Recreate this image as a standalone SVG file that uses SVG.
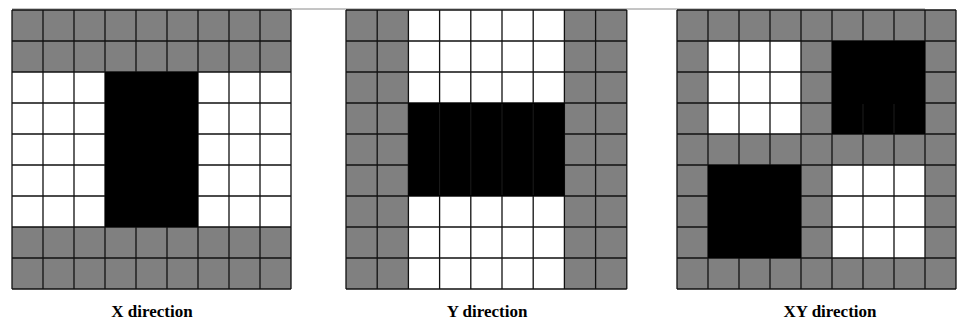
<svg xmlns="http://www.w3.org/2000/svg" width="957" height="322" viewBox="0 0 957 322">
<style>
.g{fill:#808080}
.w{fill:#ffffff}
.b{fill:#000000}
.ln{stroke:#111111;stroke-width:1.3;fill:none}
.faint{stroke:#1c1c1c;stroke-width:1;fill:none}
.lbl{font-family:"Liberation Serif","Times New Roman",serif;font-weight:bold;font-size:17px;fill:#000;text-anchor:middle}
</style>
<rect width="957" height="322" fill="#ffffff"/>
<line x1="12" y1="9" x2="925" y2="9" stroke="#8a8a8a" stroke-width="1"/>
<g id="grid-x">
<rect class="g" x="12" y="10" width="279" height="279"/>
<rect class="w" x="12" y="72" width="93" height="155"/>
<rect class="w" x="198" y="72" width="93" height="155"/>
<path class="ln" d="M12 10V289M43 10V289M74 10V289M105 10V289M136 10V289M167 10V289M198 10V289M229 10V289M260 10V289M291 10V289M12 10H291M12 41H291M12 72H291M12 103H291M12 134H291M12 165H291M12 196H291M12 227H291M12 258H291M12 289H291"/>
<rect class="b" x="105" y="72" width="93" height="155"/>
<text class="lbl" x="152" y="317">X direction</text>
</g>
<g id="grid-y">
<rect class="g" x="346" y="10" width="280.8" height="279"/>
<rect class="w" x="408.4" y="10" width="156" height="93"/>
<rect class="w" x="408.4" y="196" width="156" height="93"/>
<path class="ln" d="M346 10V289M377.2 10V289M408.4 10V289M439.6 10V289M470.8 10V289M502 10V289M533.2 10V289M564.4 10V289M595.6 10V289M626.8 10V289M346 10H626.8M346 41H626.8M346 72H626.8M346 103H626.8M346 134H626.8M346 165H626.8M346 196H626.8M346 227H626.8M346 258H626.8M346 289H626.8"/>
<rect class="b" x="408.4" y="103" width="156" height="93"/>
<path class="faint" d="M439.6 104V195M470.8 104V195M502 104V195M533.2 104V195"/>
<text class="lbl" x="487" y="317">Y direction</text>
</g>
<g id="grid-xy">
<rect class="g" x="677" y="10" width="279" height="279"/>
<rect class="w" x="708" y="41" width="93" height="93"/>
<rect class="w" x="832" y="165" width="93" height="93"/>
<path class="ln" d="M677 10V289M708 10V289M739 10V289M770 10V289M801 10V289M832 10V289M863 10V289M894 10V289M925 10V289M956 10V289M677 10H956M677 41H956M677 72H956M677 103H956M677 134H956M677 165H956M677 196H956M677 227H956M677 258H956M677 289H956"/>
<rect class="b" x="832" y="41" width="93" height="93"/>
<rect class="b" x="708" y="165" width="93" height="93"/>
<path class="faint" d="M863 104V133M894 104V133"/>
<text class="lbl" x="830" y="317">XY direction</text>
</g>
</svg>
